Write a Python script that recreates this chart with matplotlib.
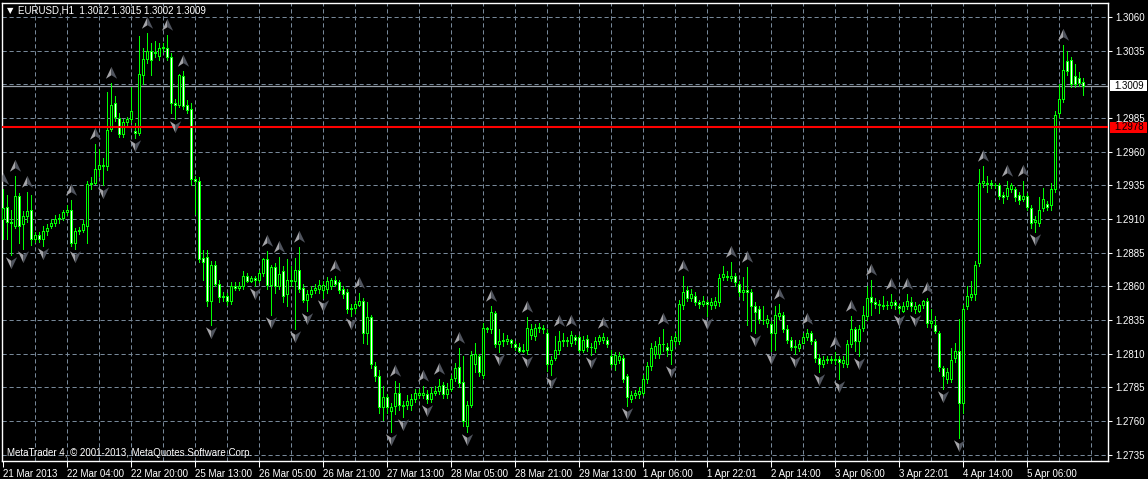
import matplotlib
matplotlib.use("Agg")
import matplotlib.pyplot as plt
from matplotlib.path import Path
from matplotlib.transforms import IdentityTransform, offset_copy
from matplotlib.patches import Rectangle

plt.rcParams['font.family'] = ['Liberation Sans', 'DejaVu Sans']

title_text = "EURUSD,H1  1.3012 1.3015 1.3002 1.3009"
copyright_text = "MetaTrader 4, \u00a9 2001-2013, MetaQuotes Software Corp."

opens = [
    1.2910, 1.2919, 1.2908, 1.2905, 1.2927, 1.2906, 1.2912, 1.2917, 1.2895, 1.2898,
    1.2895, 1.2901, 1.2905, 1.2907, 1.2910, 1.2911, 1.2915, 1.2917, 1.2892, 1.2901,
    1.2902, 1.2905, 1.2936, 1.2937, 1.2947, 1.2950, 1.2949, 1.2977, 1.2996, 1.2985,
    1.2973, 1.2982, 1.2984, 1.2975, 1.2974, 1.3017, 1.3029, 1.3035, 1.3033, 1.3031,
    1.3037, 1.3037, 1.3030, 1.2996, 1.2995, 1.3016, 1.2995, 1.2992, 1.2940, 1.2938,
    1.2881, 1.2882, 1.2849, 1.2876, 1.2862, 1.2852, 1.2853, 1.2849, 1.2860, 1.2859,
    1.2860, 1.2868, 1.2864, 1.2866, 1.2865, 1.2870, 1.2880, 1.2861, 1.2874, 1.2860,
    1.2871, 1.2854, 1.2865, 1.2864, 1.2872, 1.2859, 1.2850, 1.2854, 1.2857, 1.2858,
    1.2857, 1.2858, 1.2860, 1.2865, 1.2863, 1.2858, 1.2856, 1.2843, 1.2844, 1.2846,
    1.2849, 1.2825, 1.2837, 1.2801, 1.2793, 1.2770, 1.2778, 1.2767, 1.2771, 1.2781,
    1.2772, 1.2772, 1.2772, 1.2776, 1.2779, 1.2779, 1.2780, 1.2776, 1.2781, 1.2782,
    1.2787, 1.2780, 1.2784, 1.2792, 1.2800, 1.2789, 1.2756, 1.2772, 1.2802, 1.2808,
    1.2794, 1.2829, 1.2828, 1.2840, 1.2817, 1.2819, 1.2819, 1.2820, 1.2817, 1.2815,
    1.2812, 1.2813, 1.2824, 1.2823, 1.2829, 1.2829, 1.2825, 1.2802, 1.2807, 1.2813,
    1.2819, 1.2820, 1.2818, 1.2822, 1.2822, 1.2813, 1.2821, 1.2815, 1.2814, 1.2819,
    1.2820, 1.2820, 1.2808, 1.2802, 1.2805, 1.2807, 1.2793, 1.2776, 1.2779, 1.2780,
    1.2781, 1.2791, 1.2801, 1.2810, 1.2810, 1.2817, 1.2815, 1.2813, 1.2819, 1.2819,
    1.2846, 1.2857, 1.2851, 1.2853, 1.2848, 1.2847, 1.2848, 1.2846, 1.2846, 1.2848,
    1.2867, 1.2867, 1.2866, 1.2868, 1.2862, 1.2856, 1.2857, 1.2856, 1.2845, 1.2843,
    1.2835, 1.2833, 1.2832, 1.2825, 1.2838, 1.2839, 1.2828, 1.2820, 1.2815, 1.2814,
    1.2818, 1.2822, 1.2825, 1.2819, 1.2807, 1.2802, 1.2805, 1.2806, 1.2805, 1.2806,
    1.2803, 1.2802, 1.2817, 1.2828, 1.2819, 1.2829, 1.2838, 1.2852, 1.2848, 1.2846,
    1.2845, 1.2846, 1.2846, 1.2848, 1.2845, 1.2842, 1.2845, 1.2848, 1.2843, 1.2842,
    1.2846, 1.2849, 1.2833, 1.2831, 1.2825, 1.2799, 1.2791, 1.2791, 1.2807, 1.2812,
    1.2773, 1.2845, 1.2852, 1.2854, 1.2877, 1.2937, 1.2936, 1.2937, 1.2935, 1.2935,
    1.2928, 1.2927, 1.2932, 1.2932, 1.2928, 1.2925, 1.2927, 1.2918, 1.2908, 1.2907,
    1.2918, 1.2921, 1.2920, 1.2932, 1.2989, 1.2999, 1.3027, 1.3028, 1.3016, 1.3015,
    1.3012,
]

highs = [
    1.2932, 1.2928, 1.2917, 1.2942, 1.2929, 1.2916, 1.2930, 1.2928, 1.2900, 1.2900,
    1.2905, 1.2906, 1.2910, 1.2913, 1.2914, 1.2917, 1.2920, 1.2924, 1.2903, 1.2904,
    1.2909, 1.2938, 1.2941, 1.2966, 1.2962, 1.2955, 1.3004, 1.3011, 1.3001, 1.2989,
    1.2984, 1.2986, 1.3008, 1.2981, 1.3046, 1.3037, 1.3048, 1.3041, 1.3042, 1.3041,
    1.3041, 1.3047, 1.3033, 1.2999, 1.3018, 1.3020, 1.2998, 1.2996, 1.2942, 1.2941,
    1.2887, 1.2887, 1.2879, 1.2879, 1.2865, 1.2856, 1.2855, 1.2863, 1.2863, 1.2863,
    1.2871, 1.2870, 1.2868, 1.2868, 1.2872, 1.2881, 1.2886, 1.2876, 1.2877, 1.2882,
    1.2875, 1.2880, 1.2875, 1.2881, 1.2889, 1.2862, 1.2857, 1.2860, 1.2862, 1.2865,
    1.2864, 1.2867, 1.2866, 1.2868, 1.2865, 1.2860, 1.2858, 1.2847, 1.2849, 1.2855,
    1.2851, 1.2848, 1.2839, 1.2804, 1.2798, 1.2786, 1.2780, 1.2773, 1.2790, 1.2788,
    1.2775, 1.2779, 1.2780, 1.2784, 1.2784, 1.2786, 1.2783, 1.2785, 1.2786, 1.2791,
    1.2789, 1.2788, 1.2794, 1.2803, 1.2814, 1.2808, 1.2775, 1.2812, 1.2818, 1.2810,
    1.2833, 1.2830, 1.2845, 1.2842, 1.2828, 1.2825, 1.2824, 1.2821, 1.2819, 1.2818,
    1.2817, 1.2837, 1.2832, 1.2832, 1.2833, 1.2831, 1.2828, 1.2808, 1.2823, 1.2827,
    1.2825, 1.2822, 1.2827, 1.2824, 1.2824, 1.2823, 1.2824, 1.2818, 1.2822, 1.2824,
    1.2825, 1.2822, 1.2813, 1.2811, 1.2811, 1.2809, 1.2795, 1.2782, 1.2783, 1.2785,
    1.2794, 1.2804, 1.2818, 1.2819, 1.2822, 1.2828, 1.2818, 1.2823, 1.2825, 1.2850,
    1.2868, 1.2860, 1.2858, 1.2856, 1.2850, 1.2853, 1.2850, 1.2851, 1.2852, 1.2869,
    1.2875, 1.2871, 1.2878, 1.2870, 1.2864, 1.2867, 1.2874, 1.2858, 1.2848, 1.2845,
    1.2845, 1.2839, 1.2834, 1.2845, 1.2847, 1.2841, 1.2831, 1.2822, 1.2820, 1.2820,
    1.2825, 1.2828, 1.2827, 1.2821, 1.2810, 1.2808, 1.2808, 1.2808, 1.2811, 1.2808,
    1.2808, 1.2820, 1.2838, 1.2830, 1.2831, 1.2845, 1.2860, 1.2865, 1.2851, 1.2850,
    1.2853, 1.2849, 1.2854, 1.2850, 1.2847, 1.2848, 1.2854, 1.2852, 1.2848, 1.2847,
    1.2850, 1.2851, 1.2843, 1.2838, 1.2827, 1.2801, 1.2799, 1.2814, 1.2818, 1.2836,
    1.2846, 1.2860, 1.2864, 1.2879, 1.2947, 1.2949, 1.2942, 1.2939, 1.2937, 1.2937,
    1.2930, 1.2938, 1.2937, 1.2934, 1.2930, 1.2938, 1.2929, 1.2920, 1.2912, 1.2926,
    1.2933, 1.2923, 1.2937, 1.2990, 1.3010, 1.3039, 1.3035, 1.3030, 1.3025, 1.3019,
    1.3015,
]

lows = [
    1.2895, 1.2895, 1.2883, 1.2903, 1.2892, 1.2888, 1.2908, 1.2891, 1.2893, 1.2893,
    1.2890, 1.2898, 1.2903, 1.2905, 1.2907, 1.2909, 1.2913, 1.2890, 1.2888, 1.2899,
    1.2900, 1.2892, 1.2932, 1.2936, 1.2942, 1.2935, 1.2946, 1.2975, 1.2983, 1.2971,
    1.2971, 1.2978, 1.2982, 1.2970, 1.2972, 1.3010, 1.3026, 1.3017, 1.3030, 1.3028,
    1.3034, 1.3028, 1.2989, 1.2984, 1.2993, 1.2992, 1.2989, 1.2935, 1.2914, 1.2878,
    1.2865, 1.2845, 1.2831, 1.2860, 1.2848, 1.2849, 1.2846, 1.2847, 1.2857, 1.2857,
    1.2858, 1.2863, 1.2863, 1.2860, 1.2863, 1.2868, 1.2858, 1.2839, 1.2855, 1.2858,
    1.2848, 1.2845, 1.2860, 1.2828, 1.2856, 1.2848, 1.2842, 1.2852, 1.2855, 1.2855,
    1.2851, 1.2855, 1.2858, 1.2860, 1.2855, 1.2851, 1.2840, 1.2838, 1.2840, 1.2845,
    1.2818, 1.2817, 1.2799, 1.2790, 1.2766, 1.2761, 1.2766, 1.2752, 1.2765, 1.2768,
    1.2763, 1.2769, 1.2768, 1.2774, 1.2777, 1.2777, 1.2773, 1.2774, 1.2779, 1.2780,
    1.2777, 1.2777, 1.2782, 1.2790, 1.2785, 1.2756, 1.2752, 1.2770, 1.2796, 1.2793,
    1.2792, 1.2826, 1.2825, 1.2815, 1.2811, 1.2816, 1.2817, 1.2815, 1.2813, 1.2811,
    1.2811, 1.2810, 1.2821, 1.2820, 1.2826, 1.2825, 1.2797, 1.2794, 1.2805, 1.2810,
    1.2816, 1.2816, 1.2816, 1.2817, 1.2811, 1.2811, 1.2812, 1.2809, 1.2811, 1.2817,
    1.2818, 1.2815, 1.2800, 1.2798, 1.2803, 1.2789, 1.2771, 1.2774, 1.2777, 1.2777,
    1.2779, 1.2788, 1.2798, 1.2807, 1.2807, 1.2812, 1.2808, 1.2802, 1.2816, 1.2817,
    1.2843, 1.2849, 1.2849, 1.2846, 1.2844, 1.2845, 1.2838, 1.2843, 1.2844, 1.2845,
    1.2865, 1.2865, 1.2864, 1.2860, 1.2853, 1.2850, 1.2831, 1.2827, 1.2825, 1.2833,
    1.2832, 1.2830, 1.2812, 1.2813, 1.2836, 1.2826, 1.2818, 1.2813, 1.2810, 1.2812,
    1.2818, 1.2820, 1.2817, 1.2804, 1.2796, 1.2800, 1.2803, 1.2803, 1.2802, 1.2791,
    1.2800, 1.2800, 1.2815, 1.2812, 1.2808, 1.2827, 1.2835, 1.2839, 1.2844, 1.2840,
    1.2843, 1.2843, 1.2844, 1.2843, 1.2840, 1.2841, 1.2843, 1.2842, 1.2840, 1.2841,
    1.2844, 1.2830, 1.2830, 1.2825, 1.2797, 1.2784, 1.2788, 1.2789, 1.2804, 1.2747,
    1.2766, 1.2843, 1.2850, 1.2850, 1.2875, 1.2934, 1.2930, 1.2933, 1.2933, 1.2925,
    1.2922, 1.2925, 1.2930, 1.2923, 1.2921, 1.2923, 1.2917, 1.2903, 1.2900, 1.2905,
    1.2916, 1.2917, 1.2917, 1.2930, 1.2986, 1.2997, 1.3017, 1.3008, 1.3008, 1.3009,
    1.3002,
]

closes = [
    1.2918, 1.2908, 1.2907, 1.2927, 1.2905, 1.2912, 1.2916, 1.2895, 1.2898, 1.2895,
    1.2901, 1.2903, 1.2907, 1.2910, 1.2911, 1.2915, 1.2917, 1.2892, 1.2901, 1.2902,
    1.2906, 1.2936, 1.2937, 1.2947, 1.2950, 1.2949, 1.2976, 1.2995, 1.2986, 1.2973,
    1.2982, 1.2984, 1.2990, 1.2974, 1.3018, 1.3029, 1.3035, 1.3028, 1.3034, 1.3037,
    1.3038, 1.3030, 1.2996, 1.2995, 1.3017, 1.2994, 1.2991, 1.2940, 1.2938, 1.2880,
    1.2878, 1.2849, 1.2876, 1.2862, 1.2852, 1.2853, 1.2849, 1.2860, 1.2859, 1.2860,
    1.2868, 1.2864, 1.2866, 1.2865, 1.2870, 1.2880, 1.2861, 1.2874, 1.2860, 1.2869,
    1.2853, 1.2865, 1.2864, 1.2872, 1.2858, 1.2850, 1.2854, 1.2857, 1.2859, 1.2861,
    1.2861, 1.2864, 1.2865, 1.2862, 1.2857, 1.2854, 1.2843, 1.2844, 1.2847, 1.2849,
    1.2825, 1.2837, 1.2802, 1.2793, 1.2770, 1.2778, 1.2770, 1.2770, 1.2781, 1.2772,
    1.2771, 1.2775, 1.2776, 1.2781, 1.2781, 1.2781, 1.2776, 1.2781, 1.2782, 1.2786,
    1.2780, 1.2784, 1.2791, 1.2799, 1.2788, 1.2760, 1.2772, 1.2809, 1.2810, 1.2796,
    1.2829, 1.2828, 1.2841, 1.2817, 1.2819, 1.2820, 1.2821, 1.2818, 1.2815, 1.2812,
    1.2813, 1.2829, 1.2828, 1.2829, 1.2830, 1.2828, 1.2802, 1.2805, 1.2813, 1.2819,
    1.2820, 1.2819, 1.2824, 1.2820, 1.2813, 1.2820, 1.2815, 1.2815, 1.2819, 1.2822,
    1.2822, 1.2817, 1.2802, 1.2809, 1.2808, 1.2791, 1.2778, 1.2779, 1.2781, 1.2782,
    1.2791, 1.2801, 1.2814, 1.2816, 1.2817, 1.2817, 1.2813, 1.2820, 1.2822, 1.2847,
    1.2856, 1.2851, 1.2854, 1.2848, 1.2847, 1.2849, 1.2847, 1.2848, 1.2849, 1.2866,
    1.2869, 1.2868, 1.2868, 1.2863, 1.2856, 1.2857, 1.2856, 1.2845, 1.2841, 1.2836,
    1.2835, 1.2836, 1.2825, 1.2839, 1.2840, 1.2828, 1.2820, 1.2815, 1.2816, 1.2817,
    1.2822, 1.2825, 1.2819, 1.2807, 1.2802, 1.2805, 1.2806, 1.2805, 1.2806, 1.2804,
    1.2805, 1.2817, 1.2828, 1.2819, 1.2828, 1.2839, 1.2851, 1.2848, 1.2847, 1.2847,
    1.2846, 1.2846, 1.2848, 1.2846, 1.2844, 1.2845, 1.2849, 1.2845, 1.2845, 1.2846,
    1.2849, 1.2833, 1.2834, 1.2827, 1.2800, 1.2793, 1.2796, 1.2805, 1.2812, 1.2773,
    1.2843, 1.2853, 1.2854, 1.2876, 1.2937, 1.2938, 1.2937, 1.2936, 1.2935, 1.2927,
    1.2926, 1.2933, 1.2935, 1.2926, 1.2924, 1.2927, 1.2919, 1.2907, 1.2909, 1.2917,
    1.2925, 1.2919, 1.2932, 1.2987, 1.2999, 1.3021, 1.3020, 1.3010, 1.3010, 1.3011,
    1.3009,
]

up_fractals = [0, 3, 6, 17, 23, 27, 36, 41, 45, 66, 69, 74, 83, 89, 98, 105, 109,
               114, 122, 131, 139, 142, 150, 165, 170, 182, 186, 194, 201, 208, 212,
               217, 222, 226, 231, 245, 251, 255, 265]
down_fractals = [2, 5, 10, 18, 25, 33, 43, 52, 63, 67, 73, 76, 80, 87, 97, 100, 106,
                 116, 124, 131, 137, 147, 156, 167, 176, 188, 192, 198, 204, 209, 214,
                 224, 228, 235, 239, 258]

grid_prices = [1.2735, 1.2760, 1.2785, 1.2810, 1.2835, 1.2860, 1.2885, 1.2910,
               1.2935, 1.2960, 1.2985, 1.3010, 1.3035, 1.3060]
price_labels = [1.2735, 1.2760, 1.2785, 1.2810, 1.2835, 1.2860, 1.2885, 1.2910,
                1.2935, 1.2960, 1.2985, 1.3035, 1.3060]
time_labels = ["21 Mar 2013", "22 Mar 04:00", "22 Mar 20:00", "25 Mar 13:00",
               "26 Mar 05:00", "26 Mar 21:00", "27 Mar 13:00", "28 Mar 05:00",
               "28 Mar 21:00", "29 Mar 13:00", "1 Apr 06:00", "1 Apr 22:01",
               "2 Apr 14:00", "3 Apr 06:00", "3 Apr 22:01", "4 Apr 14:00",
               "5 Apr 06:00"]
label_step = 16
grid_step = 8
bid_price = 1.3009
level_price = 1.2978

FS = 7

# ---------------------------------------------------------------- figure
W, H = 1148, 479
fig = plt.figure(figsize=(W / 100, H / 100), dpi=100, facecolor="black")
ax_l, ax_r, ax_t, ax_b = 2, 1108, 3, 461
ax = fig.add_axes([ax_l / W, (H - ax_b) / H, (ax_r - ax_l) / W, (ax_b - ax_t) / H])
ax.set_facecolor("black")

n = len(closes)
xs = list(range(n))
ax.set_xlim(-0.25, 276.25)
ppu = 33.66 / 0.0025
ax.set_ylim(1.3060 - (ax_b - 17) / ppu, 1.3060 + (17 - ax_t) / ppu)

grid_col = "#778899"
for p in grid_prices:
    ax.axhline(p, color=grid_col, lw=0.72, dashes=(4.2, 2.8), zorder=1)
for gx in range(grid_step, 280, grid_step):
    ax.axvline(gx, color=grid_col, lw=0.72, dashes=(4.2, 2.8), zorder=1)

ax.axhline(bid_price, color="#9aa2ab", lw=0.9, zorder=2)

lime = "#00ff00"
ax.vlines(xs, lows, highs, color=lime, lw=0.72, zorder=3, antialiased=False)
bottoms = [min(o, c) for o, c in zip(opens, closes)]
heights = [abs(c - o) for o, c in zip(opens, closes)]
faces = ["white" if c < o else "black" for o, c in zip(opens, closes)]
ax.bar(xs, heights, bottom=bottoms, width=0.38, color=faces, edgecolor=lime,
       linewidth=0.72, zorder=4, antialiased=False)

ax.axhline(level_price, color="#ff0000", lw=1.5, zorder=5)

# fractal arrows
verts_left = [(0, 1), (0, -0.25), (-0.85, -0.8), (0, 1)]
verts_right = [(0, 1), (0.85, -0.8), (0, -0.25), (0, 1)]
codes = [Path.MOVETO, Path.LINETO, Path.LINETO, Path.CLOSEPOLY]
up_l = Path(verts_left, codes)
up_r = Path(verts_right, codes)
dn_l = Path([(x, -y) for x, y in verts_left], codes)
dn_r = Path([(x, -y) for x, y in verts_right], codes)
tr_up = offset_copy(ax.transData, fig=fig, y=10, units="dots")
tr_dn = offset_copy(ax.transData, fig=fig, y=-7, units="dots")
ux = up_fractals
uy = [highs[i] for i in up_fractals]
dx = down_fractals
dy = [lows[i] for i in down_fractals]
for mk, col in ((up_l, "#a4a4a8"), (up_r, "#50545e")):
    ax.plot(ux, uy, ls="none", marker=mk, ms=9.5, mfc=col, mec="none",
            transform=tr_up, zorder=6)
for mk, col in ((dn_l, "#a4a4a8"), (dn_r, "#50545e")):
    ax.plot(dx, dy, ls="none", marker=mk, ms=9.5, mfc=col, mec="none",
            transform=tr_dn, zorder=6)

# spines & ticks
for s in ax.spines.values():
    s.set_color("white")
    s.set_linewidth(1.0)
ax.yaxis.tick_right()
ax.set_yticks(price_labels)
ax.set_yticklabels([f"{p:.4f}" for p in price_labels])
ax.tick_params(axis="y", colors="white", labelcolor="white", length=3, width=0.75,
               pad=2, labelsize=FS, direction="out")
ax.set_xticks(list(range(0, label_step * len(time_labels), label_step)))
ax.set_xticklabels(time_labels, ha="left")
ax.tick_params(axis="x", colors="white", labelcolor="white", length=4, width=0.75,
               pad=1.5, labelsize=FS, direction="out")

# price boxes
fig.canvas.draw()
for price, fc, tc in ((bid_price, "white", "black"), (level_price, "#ff0000", "black")):
    yd = ax.transData.transform((0, price))[1]
    fig.add_artist(Rectangle((1110, yd - 5.5), 37, 11, transform=IdentityTransform(),
                             facecolor=fc, edgecolor="none", zorder=10))
    fig.text(1114, yd, f"{price:.4f}", transform=IdentityTransform(), ha="left",
             va="center", color=tc, fontsize=FS, zorder=11)

# header and footer
fig.text(7, H - 10.5, "\u25bc", transform=IdentityTransform(), ha="left", va="center",
         color="white", fontsize=6, family=["DejaVu Sans"])
fig.text(18, H - 10.5, title_text, transform=IdentityTransform(), ha="left",
         va="center", color="white", fontsize=FS)
fig.text(7, H - 453, copyright_text, transform=IdentityTransform(), ha="left",
         va="center", color="white", fontsize=FS)

fig.savefig("out.png", dpi=100, facecolor="black")
